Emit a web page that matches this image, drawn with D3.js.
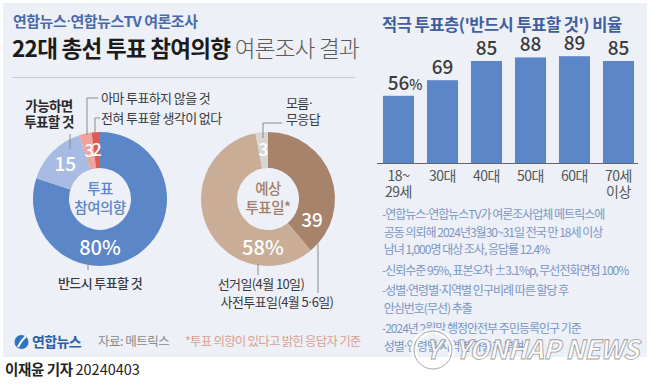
<!DOCTYPE html>
<html>
<head>
<meta charset="utf-8">
<script src="https://d3js.org/d3.v7.min.js"></script>
<style>
  body { margin: 0px; padding: 0px; background: #ffffff; }
  svg text { font-family: "Noto Sans CJK KR", "Noto Sans", sans-serif; }
</style>
</head>
<body>
<div id="svg_cont"></div>
<script>

// ---- data ----
const ageGroups = ["18~29세", "30대", "40대", "50대", "60대", "70세 이상"];
const ageTickLines = [["18~", "29세"], ["30대"], ["40대"], ["50대"], ["60대"], ["70세", "이상"]];
const activeShare = [56, 69, 85, 88, 89, 85];

const intentNames = ["반드시 투표할 것", "가능하면 투표할 것", "아마 투표하지 않을 것", "전혀 투표할 생각이 없다"];
const intentValues = [80, 15, 3, 2];
const intentTexts = ["80%", "15", "3", "2"];

const dayNames = ["사전투표일(4월 5·6일)", "선거일(4월 10일)", "모름·무응답"];
const dayValues = [39, 58, 3];
const dayTexts = ["39", "58%", "3"];

const noteLines = [
  ["-연합뉴스·연합뉴스TV가 여론조사업체 메트릭스에", " 공동 의뢰해 2024년3월30~31일 전국 만 18세 이상", " 남녀 1,000명 대상 조사, 응답률 12.4%"],
  ["-신뢰수준 95%, 표본오차 ±3.1%p, 무선전화면접 100%"],
  ["-성별·연령별·지역별 인구비례 따른 할당 후", " 안심번호(무선) 추출"],
  ["-2024년 2월말 행정안전부 주민등록인구 기준", " 성별·연령별·지역별 가중치 부여"]
];

var w = 650, h = 386;

var svg_main = d3.select("div#svg_cont")
  .append("svg")
  .attr("width", w)
  .attr("height", h);

// the CJK font draws "·" full width; draw the dot with a latin font so it stays narrow
function dotText(sel, s) {
  s.split("·").forEach(function(part, i) {
    if (i > 0) sel.append("tspan").attr("font-family", "DejaVu Sans").attr("font-weight", 400).text("·");
    if (part.length) sel.append("tspan").text(part);
  });
  return sel;
}

svg_main.append("rect")
  .attr("x", 0).attr("y", 0).attr("width", w).attr("height", h)
  .attr("fill", "#ffffff");

svg_main.append("rect")
  .attr("x", 3).attr("y", 3).attr("width", 644).attr("height", 354)
  .attr("fill", "#edf0f6");

// ---- header ----
dotText(svg_main.append("text")
  .attr("x", 13).attr("y", 27)
  .attr("font-size", 15).attr("font-weight", 700)
  .attr("letter-spacing", -0.5)
  .attr("fill", "#4a6bab"), "연합뉴스·연합뉴스TV 여론조사");

var title = svg_main.append("text")
  .attr("x", 12).attr("y", 57)
  .attr("font-size", 22.5).attr("letter-spacing", -0.7);
title.append("tspan").attr("font-weight", 700).attr("fill", "#1b1b1b").text("22대 총선 투표 참여의향 ");
title.append("tspan").attr("font-weight", 300).attr("fill", "#5a5a5a").text("여론조사 결과");

svg_main.append("line")
  .attr("x1", 12).attr("x2", 355).attr("y1", 77.5).attr("y2", 77.5)
  .attr("stroke", "#c6cbd5").attr("stroke-width", 1);

// ---- donuts ----
var pie = d3.pie().sort(null).value(d => d);
var R_out = 67, R_in = 31;
var arc = d3.arc().innerRadius(R_in).outerRadius(R_out);

function polar(cx, cy, r, deg) {
  var a = deg * Math.PI / 180;
  return [cx + r * Math.sin(a), cy - r * Math.cos(a)];
}

function drawDonut(cfg) {
  var g = svg_main.append("g").attr("transform", "translate(" + cfg.cx + "," + cfg.cy + ")");
  var arcs = pie(cfg.values);
  g.selectAll("path").data(arcs).enter().append("path")
    .attr("d", arc)
    .attr("fill", (d, i) => cfg.colors[i]);

  g.selectAll("text.val").data(arcs).enter().append("text")
    .attr("class", "val")
    .attr("transform", function(d, i) {
      var p;
      if (cfg.labelDeg[i] == null) p = arc.centroid(d);
      else p = polar(0, 0, 49, cfg.labelDeg[i]);
      return "translate(" + p[0] + "," + p[1] + ")";
    })
    .attr("dy", "0.36em")
    .attr("text-anchor", "middle")
    .attr("font-size", (d, i) => cfg.labelSize[i])
    .attr("font-weight", 500)
    .attr("fill", "#ffffff")
    .text((d, i) => cfg.texts[i]);

  g.selectAll("text.center").data(cfg.center).enter().append("text")
    .attr("class", "center")
    .attr("x", 0).attr("y", (d, i) => -5 + i * 19)
    .attr("text-anchor", "middle")
    .attr("font-size", 14.5).attr("font-weight", 500)
    .attr("letter-spacing", -0.5)
    .attr("fill", cfg.centerColor)
    .text(d => d);
  return arcs;
}

var leftCx = 100, rightCx = 268, donutCy = 199;

drawDonut({
  cx: leftCx, cy: donutCy, values: intentValues, texts: intentTexts,
  colors: ["#5b86c8", "#a8bbe2", "#f0a29c", "#e05a52"],
  labelDeg: [180, null, null, null],
  labelSize: [20, 19, 17, 17],
  center: ["투표", "참여의향"], centerColor: "#5b86c8"
});

drawDonut({
  cx: rightCx, cy: donutCy, values: dayValues, texts: dayTexts,
  colors: ["#a8836c", "#c9ad97", "#d8d5d2"],
  labelDeg: [116, 186, null],
  labelSize: [19, 20, 17],
  center: ["예상", "투표일*"], centerColor: "#a27f69"
});

// leader lines and slice names (annotations)
var leaders = [
  { pts: [[70, 134], [70, 149]], text: ["가능하면", "투표할 것"], tx: 49, ty: 111, anchor: "middle", weight: 700 },
  { pts: [[98, 98], [87, 98], [87, 135]], text: [intentNames[2]], tx: 101, ty: 103, anchor: "start", weight: 400 },
  { pts: [[100, 118], [95, 118], [95, 133]], text: [intentNames[3]], tx: 101, ty: 123, anchor: "start", weight: 400 },
  { pts: [[88, 258], [88, 270]], text: [intentNames[0]], tx: 100, ty: 288, anchor: "middle", weight: 500 },
  { pts: [[282, 123], [263, 123], [263, 138]], text: ["모름·", "무응답"], tx: 286, ty: 108, anchor: "start", weight: 400 },
  { pts: [[258, 264], [258, 275]], text: [dayNames[1]], tx: 261, ty: 289, anchor: "middle", weight: 400 },
  { pts: [[318, 244], [318, 293]], text: [dayNames[0]], tx: 277, ty: 307, anchor: "middle", weight: 400 }
];

leaders.forEach(function(l) {
  svg_main.append("path")
    .attr("d", d3.line()(l.pts))
    .attr("fill", "none")
    .attr("stroke", "#8a8a8a")
    .attr("stroke-width", 1);
  var t = svg_main.append("text")
    .attr("x", l.tx).attr("y", l.ty)
    .attr("text-anchor", l.anchor)
    .attr("font-size", l.weight == 700 ? 13.5 : 13)
    .attr("font-weight", l.weight)
    .attr("letter-spacing", -0.6)
    .attr("fill", l.weight == 700 ? "#2a2a2a" : "#3a3a3a");
  l.text.forEach(function(s, i) {
    var ts = t.append("tspan").attr("x", l.tx).attr("dy", i == 0 ? 0 : 16);
    dotText(ts, s);
  });
});

// ---- bar chart ----
svg_main.append("text")
  .attr("x", 382).attr("y", 31)
  .attr("font-size", 16.5).attr("font-weight", 700)
  .attr("letter-spacing", -0.5)
  .attr("fill", "#3f5f9f")
  .text("적극 투표층('반드시 투표할 것') 비율");

var x = d3.scaleBand()
  .domain(ageGroups)
  .range([376.5, 640.5])
  .paddingInner(0.295)
  .paddingOuter(0.1475);

var y = d3.scaleLinear()
  .domain([0, 100])
  .range([163, 43]);

svg_main.selectAll("rect.bar").data(activeShare).enter().append("rect")
  .attr("class", "bar")
  .attr("x", (d, i) => x(ageGroups[i]))
  .attr("y", d => y(d))
  .attr("width", x.bandwidth())
  .attr("height", d => y(0) - y(d))
  .attr("fill", "#5b86c8");

svg_main.append("line")
  .attr("x1", 377).attr("x2", 638)
  .attr("y1", y(0) + 0.5).attr("y2", y(0) + 0.5)
  .attr("stroke", "#666666").attr("stroke-width", 1);

var valLabels = svg_main.selectAll("g.vl").data(activeShare).enter().append("g").attr("class", "vl");
valLabels.each(function(d, i) {
  var cx = x(ageGroups[i]) + x.bandwidth() / 2;
  var t = d3.select(this).append("text")
    .attr("x", cx).attr("y", y(d) - 6)
    .attr("text-anchor", "middle")
    .attr("font-size", 19).attr("font-weight", 500)
    .attr("fill", "#3c3c3c")
    .text(d);
  if (i == 0) {
    var tw = t.node().getComputedTextLength();
    d3.select(this).append("text")
      .attr("x", cx + tw / 2).attr("y", y(d) - 6)
      .attr("font-size", 14).attr("font-weight", 500)
      .attr("fill", "#3c3c3c")
      .text("%");
  }
});

svg_main.selectAll("text.tick").data(ageTickLines).enter().append("text")
  .attr("class", "tick")
  .attr("text-anchor", "middle")
  .attr("font-size", 14)
  .attr("letter-spacing", -0.5)
  .attr("fill", "#555555")
  .each(function(d, i) {
    var cx = x(ageGroups[i]) + x.bandwidth() / 2;
    d.forEach(function(s, j) {
      d3.select(this).append("tspan")
        .attr("x", cx).attr("y", 181 + j * 16)
        .text(s);
    }, this);
  });

// ---- notes ----
var notes = svg_main.append("g")
  .attr("transform", "translate(382,0)");
var ny = 219;
noteLines.forEach(function(group, gi) {
  group.forEach(function(s, li) {
    var t = notes.append("text")
      .attr("x", 0).attr("y", ny)
      .attr("font-size", 12)
      .attr("letter-spacing", -1)
      .attr("fill", "#7b96c6")
      .style("white-space", "pre");
    dotText(t, s);
    ny += 17.5;
  });
  ny += 3;
});

// ---- watermark ----
var wm = svg_main.append("g").attr("opacity", 0.85);
wm.append("circle")
  .attr("cx", 433).attr("cy", 350).attr("r", 19)
  .attr("fill", "none").attr("stroke", "#ffffff").attr("stroke-width", 6);
wm.append("circle")
  .attr("cx", 433).attr("cy", 350).attr("r", 19)
  .attr("fill", "none").attr("stroke", "#9a9a9a").attr("stroke-width", 1);
wm.append("text")
  .attr("x", 433).attr("y", 359)
  .attr("text-anchor", "middle")
  .attr("font-family", "Liberation Sans")
  .attr("font-size", 26).attr("font-weight", 700).attr("font-style", "italic")
  .attr("fill", "#ffffff").attr("stroke", "#8f8f8f").attr("stroke-width", 0.8)
  .text("Y");
wm.append("text")
  .attr("x", 455).attr("y", 359)
  .attr("font-family", "Liberation Sans")
  .attr("font-size", 26).attr("font-weight", 700).attr("font-style", "italic")
  .attr("letter-spacing", -0.5)
  .attr("fill", "#ffffff").attr("stroke", "#8f8f8f").attr("stroke-width", 0.8)
  .text("YONHAP NEWS");

// ---- footer ----
svg_main.append("circle")
  .attr("cx", 21.5).attr("cy", 342).attr("r", 7)
  .attr("fill", "#2f72c8");
svg_main.append("path")
  .attr("d", "M18,347 C20,343 23,339 26,336")
  .attr("fill", "none").attr("stroke", "#ffffff").attr("stroke-width", 2);
svg_main.append("text")
  .attr("x", 32).attr("y", 347)
  .attr("font-size", 14).attr("font-weight", 700)
  .attr("letter-spacing", -0.6)
  .attr("fill", "#2d5ea8")
  .text("연합뉴스");
svg_main.append("text")
  .attr("x", 98).attr("y", 346)
  .attr("font-size", 12.5).attr("letter-spacing", -0.5)
  .attr("fill", "#8a8a8a")
  .text("자료: 메트릭스");
svg_main.append("text")
  .attr("x", 185).attr("y", 346)
  .attr("font-size", 12.5).attr("letter-spacing", -0.8)
  .attr("fill", "#d9a091")
  .text("*투표 의향이 있다고 밝힌 응답자 기준");

var byline = svg_main.append("text")
  .attr("x", 5).attr("y", 375)
  .attr("font-size", 14.5).attr("fill", "#222222");
byline.append("tspan").attr("font-weight", 700).attr("letter-spacing", -0.4).text("이재윤 기자 ");
byline.append("tspan").attr("font-weight", 400).text(" 20240403");

</script>
</body>
</html>
